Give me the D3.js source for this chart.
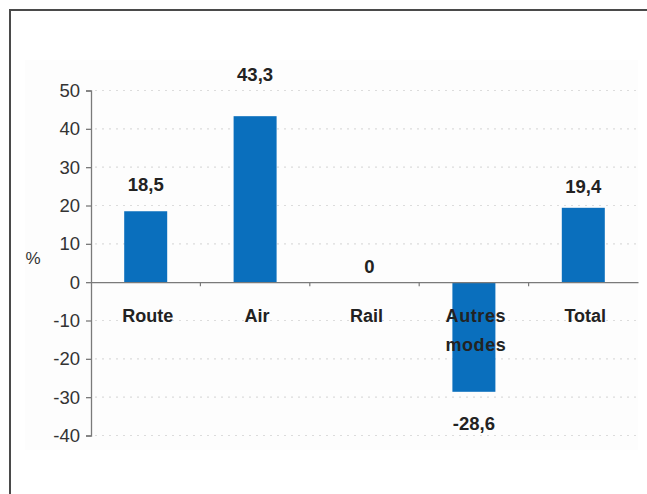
<!DOCTYPE html>
<html><head><meta charset="utf-8">
<script src="https://cdn.jsdelivr.net/npm/d3@7"></script>
<style>
html,body{margin:0;padding:0;background:#fff;overflow:hidden;}
svg{display:block;font-family:"Liberation Sans",Arial,sans-serif;}
</style></head>
<body>
<svg id="chart" width="647" height="494"></svg>
<script>
const categories = [["Route"], ["Air"], ["Rail"], ["Autres", "modes"], ["Total"]];
const values = [18.5, 43.3, 0, -28.6, 19.4];
const valueLabels = ["18,5", "43,3", "0", "-28,6", "19,4"];
const yTicks = [50, 40, 30, 20, 10, 0, -10, -20, -30, -40];
const yLabel = "%";
// manual label gaps (px) from bar end, as placed in the original
const labelGap = [20, 35, 9, 24, 15];

const svg = d3.select("#chart");
const m = {left: 91, right: 638, top: 90.5, bottom: 435.5};

// frame (only top/left visible)
svg.append("path").attr("d", "M10,494 L10,10 L647,10")
  .attr("fill", "none").attr("stroke", "#4a4a4a").attr("stroke-width", 2);

// faint plot background
svg.append("rect").attr("x", 25).attr("y", 60).attr("width", 613).attr("height", 390)
  .attr("fill", "#fdfdfd");

const x = d3.scaleBand().domain(d3.range(categories.length)).range([m.left, m.right]).paddingInner(0).paddingOuter(0);
const y = d3.scaleLinear().domain([-40, 50]).range([m.bottom, m.top]);

// gridlines
svg.append("g").selectAll("line").data(yTicks.filter(d => d !== 0)).join("line")
  .attr("x1", m.left + 4).attr("x2", m.right)
  .attr("y1", d => y(d)).attr("y2", d => y(d))
  .attr("stroke", "#dcdcdc").attr("stroke-width", 1.2).attr("stroke-dasharray", "2,5");

// bars
const bw = 43;
svg.append("g").selectAll("rect").data(values).join("rect")
  .attr("x", (d, i) => x(i) + x.bandwidth() / 2 - bw / 2)
  .attr("width", bw)
  .attr("y", d => y(Math.max(0, d)))
  .attr("height", d => Math.abs(y(d) - y(0)))
  .attr("fill", "#0a6fbd");

// y axis
const yAxis = d3.axisLeft(y).tickValues(yTicks).tickSize(5).tickPadding(6).tickFormat(d => d);
const gy = svg.append("g").attr("transform", `translate(${m.left},0)`).call(yAxis);
gy.select(".domain").attr("stroke", "#7a7a7a").attr("stroke-width", 1.3);
gy.selectAll(".tick line").attr("stroke", "#7a7a7a").attr("stroke-width", 1.3);
gy.selectAll(".tick text").attr("font-size", 18.5).attr("fill", "#333")
  .attr("font-family", "Liberation Sans, Arial, sans-serif");

// x axis at zero
const xAxis = d3.axisBottom(x).tickSize(0).tickFormat("");
const gx = svg.append("g").attr("transform", `translate(0,${y(0)})`).call(xAxis);
gx.select(".domain").attr("stroke", "#7a7a7a").attr("stroke-width", 1.3);
// boundary tick marks
svg.append("g").selectAll("line").data(d3.range(1, categories.length)).join("line")
  .attr("x1", i => x(i)).attr("x2", i => x(i))
  .attr("y1", y(0)).attr("y2", y(0) + 4)
  .attr("stroke", "#7a7a7a").attr("stroke-width", 1.2);

// category labels
const cat = svg.append("g").selectAll("text").data(categories).join("text")
  .attr("x", (d, i) => x(i) + x.bandwidth() / 2 + 2)
  .attr("y", 322)
  .attr("text-anchor", "middle")
  .attr("font-size", 18).attr("font-weight", "bold").attr("fill", "#222");
cat.selectAll("tspan").data(d => d).join("tspan")
  .attr("x", function() { return d3.select(this.parentNode).attr("x"); })
  .attr("dy", (d, j) => j === 0 ? 0 : 29)
  .attr("letter-spacing", (d, j, n) => n.length > 1 ? 0.6 : 0)
  .text(d => d);

// value labels
svg.append("g").selectAll("text").data(values).join("text")
  .attr("x", (d, i) => x(i) + x.bandwidth() / 2 + (d === 0 ? 5 : 0))
  .attr("y", (d, i) => d >= 0 ? y(d) - labelGap[i] : y(d) + labelGap[i] + 14)
  .attr("text-anchor", "middle")
  .attr("font-size", 18.5).attr("font-weight", "bold").attr("fill", "#222")
  .text((d, i) => valueLabels[i]);

// y label
svg.append("text").attr("x", 33).attr("y", 264).attr("text-anchor", "middle")
  .attr("font-size", 17).attr("fill", "#333").text(yLabel);
</script>
</body></html>
